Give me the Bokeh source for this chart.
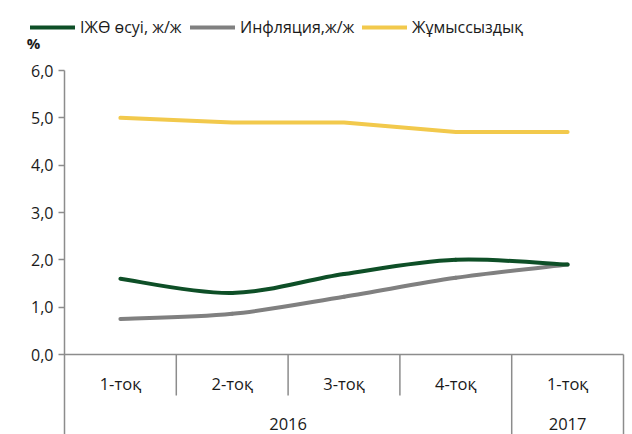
from bokeh.plotting import figure
from bokeh.models import Range1d, FixedTicker, Legend, LegendItem, Label
from bokeh.core.properties import value
from bokeh.embed import file_html
from bokeh.resources import INLINE

quarters = ["1-тоқ", "2-тоқ", "3-тоқ", "4-тоқ", "1-тоқ"]
years = ["2016", "2016", "2016", "2016", "2017"]
gdp = [1.6, 1.3, 1.7, 2.0, 1.9]
infl = [0.75, 0.86, 1.22, 1.62, 1.9]
unemp = [5.0, 4.9, 4.9, 4.7, 4.7]
y_ticks = [0, 1, 2, 3, 4, 5, 6]
names = ["ІЖӨ өсуі, ж/ж", "Инфляция,ж/ж", "Жұмыссыздық"]
colors = ["#0E4F27", "#808080", "#F2C94C"]

FONT = "Open Sans"
TXT = "#1A1A1A"
PX = 47.33   # pixels per y unit
XPX = 111.8  # pixels per category
LEFT = 64
y_top = 354 / PX
y_bot = -80 / PX

p = figure(width=632, height=434, output_backend="svg", toolbar_location=None,
           x_range=Range1d(-LEFT / XPX, (632 - LEFT) / XPX), y_range=Range1d(y_bot, y_top),
           min_border_left=0, min_border_right=0, min_border_top=0, min_border_bottom=0)
p.outline_line_color = None
p.grid.visible = False
p.xaxis.visible = False
p.background_fill_color = None
p.border_fill_color = "white"

ya = p.yaxis[0]
ya.fixed_location = 0
ya.ticker = FixedTicker(ticks=y_ticks)
ya.major_label_overrides = {t: f"{t:.1f}".replace(".", ",") for t in y_ticks}
ya.bounds = (y_bot, max(y_ticks))
ya.axis_line_color = "#8C8C8C"
ya.axis_line_width = 1.5
ya.major_tick_line_color = "#8C8C8C"
ya.major_tick_line_width = 1.5
ya.major_tick_out = 6
ya.major_tick_in = 0
ya.minor_tick_line_color = None
ya.major_label_text_font = FONT
ya.major_label_text_font_size = "16px"
ya.major_label_text_color = TXT
ya.major_label_standoff = 5

n = len(quarters)
xs = [i + 0.5 for i in range(n)]

# x-axis baseline and category separators
p.segment(x0=[0], y0=[0], x1=[n], y1=[0], line_color="#8C8C8C", line_width=1.5)
short_sep, long_sep = [], []
for i in range(1, n + 1):
    if i == n or years[i] != years[i - 1]:
        long_sep.append(i)
    else:
        short_sep.append(i)
p.segment(x0=short_sep, y0=[0] * len(short_sep), x1=short_sep, y1=[-41 / PX] * len(short_sep),
          line_color="#8C8C8C", line_width=1.5)
p.segment(x0=long_sep, y0=[0] * len(long_sep), x1=long_sep, y1=[y_bot] * len(long_sep),
          line_color="#8C8C8C", line_width=1.5)

p.text(x=xs, y=[-29 / PX] * n, text=quarters, text_font=value(FONT), text_font_size="16.5px",
       text_align="center", text_baseline="middle", text_color=TXT)
yr_x, yr_t = [], []
for yv in dict.fromkeys(years):
    idx = [i for i, v in enumerate(years) if v == yv]
    yr_x.append(sum(xs[i] for i in idx) / len(idx))
    yr_t.append(yv)
p.text(x=yr_x, y=[-69 / PX] * len(yr_x), text=yr_t, text_font=value(FONT), text_font_size="16.5px",
       text_align="center", text_baseline="middle", text_color=TXT)


def smooth(ys):
    # Catmull-Rom style control points (as used by smoothed spreadsheet lines)
    m = len(ys)
    x0, y0, x1, y1, cx0, cy0, cx1, cy1 = [], [], [], [], [], [], [], []
    for i in range(m - 1):
        ip = max(i - 1, 0)
        inx = min(i + 2, m - 1)
        x0.append(xs[i]); y0.append(ys[i]); x1.append(xs[i + 1]); y1.append(ys[i + 1])
        cx0.append(xs[i] + (xs[i + 1] - xs[ip]) / 6)
        cy0.append(ys[i] + (ys[i + 1] - ys[ip]) / 6)
        cx1.append(xs[i + 1] - (xs[inx] - xs[i]) / 6)
        cy1.append(ys[i + 1] - (ys[inx] - ys[i]) / 6)
    return dict(x0=x0, y0=y0, x1=x1, y1=y1, cx0=cx0, cy0=cy0, cx1=cx1, cy1=cy1)


r_u = p.line(x=xs, y=unemp, line_color=colors[2], line_width=4, line_cap="round", line_join="round")
r_i = p.bezier(**smooth(infl), line_color=colors[1], line_width=4, line_cap="round")
r_g = p.bezier(**smooth(gdp), line_color=colors[0], line_width=4, line_cap="round")

leg_x = [30, 190, 362]
for r, nm, lx in zip([r_g, r_i, r_u], names, leg_x):
    lg = Legend(items=[LegendItem(label=nm, renderers=[r], index=0)], location=(lx, 396),
                orientation="horizontal", glyph_width=45, glyph_height=20, label_standoff=5,
                padding=0, margin=0, border_line_color=None, background_fill_alpha=0,
                label_text_font=FONT, label_text_font_size="16px", label_text_color=TXT)
    p.add_layout(lg)

p.add_layout(Label(x=33, y=434 - 42, x_units="screen", y_units="screen", text="%",
                   text_font=FONT, text_font_size="15px", text_font_style="bold",
                   text_align="center", text_baseline="middle", text_color=TXT))

open("out.html", "w").write(file_html(p, INLINE))
